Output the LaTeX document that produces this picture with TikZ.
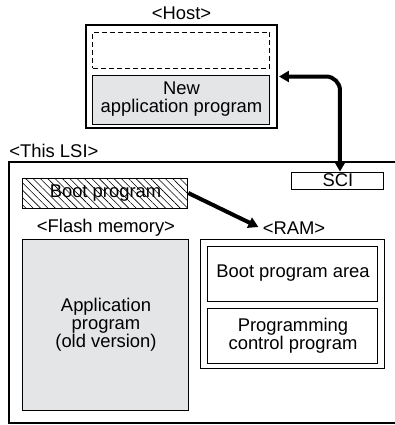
\documentclass[tikz,border=0pt]{standalone}
\usepackage{fontspec}
\setmainfont{Liberation Sans}
\usetikzlibrary{arrows.meta,patterns.meta}
\definecolor{boxgray}{RGB}{228,229,231}
\begin{document}
\begin{tikzpicture}[x=0.5pt,y=-0.5pt,
  every node/.style={font=\fontsize{9.2}{9}\selectfont, inner sep=0pt, align=center},
  thinbox/.style={draw, line width=0.5pt},
  bigarrow/.style={line width=2pt, -{Triangle[length=5pt,width=5.5pt]}},
  lbl/.style={}]
\useasboundingbox (0,0) rectangle (395,425);
% Host
\node[lbl] (hostlbl) at (181.5,13) {<Host>};
\node[draw, line width=1pt, minimum width=95.5pt, minimum height=51.5pt] (host) at (181.5,76.5) {};
\node[draw, dashed, line width=0.5pt, dash pattern=on 2.5pt off 1.5pt, minimum width=88.5pt, minimum height=18pt] (empty) at (181.5,50) {};
\node[thinbox, fill=boxgray, minimum width=88.5pt, minimum height=24.5pt] (newapp) at (181.5,99.5) {New\\application program};
% LSI
\node[lbl, anchor=west] (lsilbl) at (9,151) {<This LSI>};
\node[draw, line width=0.8pt, minimum width=198pt, minimum height=130.5pt] (lsi) at (207,292.5) {};
\node[thinbox, minimum width=46pt, minimum height=8.5pt] (sci) at (338,180.5) {SCI};
\node[thinbox, pattern={Lines[angle=-45,distance=2.6pt,line width=0.3pt]}, minimum width=82.5pt, minimum height=15pt] (boot) at (105.5,193) {Boot program};
\node[lbl] (flashlbl) at (106,228) {<Flash memory>};
\node[lbl] (ramlbl) at (294,228) {<RAM>};
\node[thinbox, fill=boxgray, minimum width=83pt, minimum height=85.5pt] (flash) at (106,324.5) {Application\\program\\(old version)};
\node[thinbox, minimum width=92pt, minimum height=64.5pt] (ram) at (293,303.5) {};
\node[thinbox, minimum width=85pt, minimum height=27.5pt] (bpa) at (293,273.5) {Boot program area};
\node[thinbox, minimum width=85pt, minimum height=27.5pt] (pcp) at (293,335.5) {Programming\\control program};
% connectors
\draw[line width=2pt, {Triangle[length=5pt,width=5.5pt]}-{Triangle[length=5pt,width=5.5pt]}, rounded corners=7pt] ([xshift=0.5pt]host.east) -| ([xshift=1pt]sci.north);
\draw[bigarrow] (boot.east) -- ([xshift=-2pt,yshift=0.5pt]ramlbl.west);
\end{tikzpicture}
\end{document}
